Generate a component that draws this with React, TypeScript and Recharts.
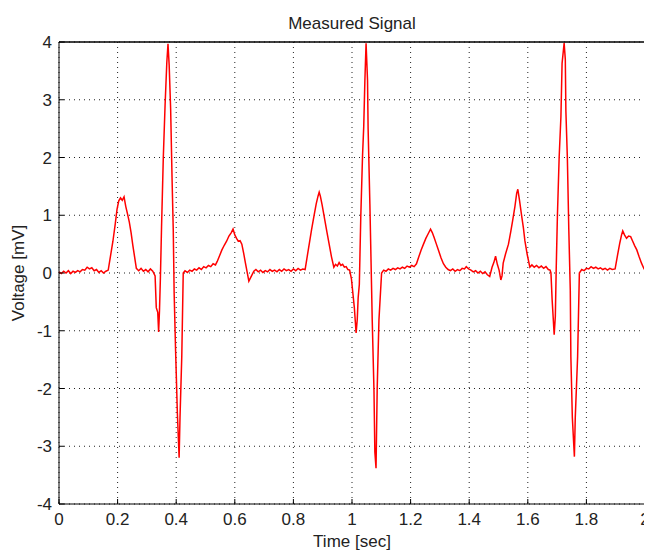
import React from 'react';
import { LineChart, Line, XAxis, YAxis, CartesianGrid, ReferenceLine } from 'recharts';

// samples: [time (s), voltage (mV)]
const beatA: [number, number][] = [
  [0.0, 0.02], [0.008, -0.01], [0.016, 0.03], [0.024, 0.0], [0.032, 0.04], [0.04, -0.01],
  [0.048, 0.03], [0.056, 0.01], [0.064, 0.04], [0.072, 0.02], [0.08, 0.06], [0.088, 0.05],
  [0.096, 0.1], [0.104, 0.07], [0.112, 0.09], [0.12, 0.04], [0.128, 0.06], [0.136, 0.01],
  [0.144, 0.04], [0.152, 0.0], [0.16, 0.03], [0.168, 0.05], [0.176, 0.3], [0.184, 0.55],
  [0.192, 0.85], [0.198, 1.1], [0.204, 1.25], [0.21, 1.3], [0.216, 1.26], [0.222, 1.32],
  [0.228, 1.15], [0.234, 1.02], [0.24, 0.88], [0.246, 0.7], [0.252, 0.48], [0.258, 0.28],
  [0.264, 0.08], [0.272, 0.04], [0.28, 0.08], [0.288, 0.03], [0.296, 0.06], [0.304, 0.02],
  [0.312, 0.07], [0.32, 0.03], [0.328, -0.05], [0.332, -0.6], [0.337, -0.68], [0.34, -1.02],
  [0.343, -0.65], [0.346, -0.1], [0.35, 0.8], [0.356, 2.0], [0.362, 2.9], [0.368, 3.65],
  [0.372, 3.97], [0.376, 3.6], [0.381, 2.85], [0.386, 1.6], [0.39, 0.73], [0.393, -0.35],
  [0.398, -1.36], [0.404, -2.43], [0.41, -3.2], [0.413, -2.5], [0.419, -1.45], [0.424, 0.0],
  [0.43, 0.04], [0.438, 0.01], [0.446, 0.05], [0.454, 0.03], [0.462, 0.07], [0.47, 0.05],
  [0.478, 0.09], [0.486, 0.06], [0.494, 0.11], [0.502, 0.09], [0.51, 0.13], [0.518, 0.11],
  [0.526, 0.16], [0.534, 0.14], [0.54, 0.2], [0.548, 0.3], [0.556, 0.4], [0.564, 0.48],
  [0.572, 0.55], [0.58, 0.64], [0.588, 0.7], [0.594, 0.76], [0.6, 0.66], [0.606, 0.6],
  [0.612, 0.55], [0.618, 0.56], [0.624, 0.5], [0.63, 0.35], [0.636, 0.18], [0.642, 0.02],
  [0.648, -0.14], [0.654, -0.08], [0.66, -0.02],
];

const beatB: [number, number][] = [
  [0.665, 0.03], [0.672, 0.06], [0.68, 0.02], [0.688, 0.05], [0.696, 0.01], [0.704, 0.04],
  [0.712, 0.02], [0.72, 0.06], [0.728, 0.03], [0.736, 0.05], [0.744, 0.02], [0.752, 0.06],
  [0.76, 0.03], [0.768, 0.07], [0.776, 0.04], [0.784, 0.06], [0.792, 0.03], [0.8, 0.07],
  [0.808, 0.04], [0.816, 0.08], [0.824, 0.05], [0.832, 0.07], [0.84, 0.06], [0.846, 0.25],
  [0.854, 0.5], [0.862, 0.75], [0.87, 0.98], [0.878, 1.2], [0.884, 1.33], [0.888, 1.4],
  [0.892, 1.33], [0.898, 1.18], [0.906, 0.95], [0.914, 0.72], [0.922, 0.5], [0.93, 0.28],
  [0.938, 0.1], [0.944, 0.15], [0.95, 0.12], [0.956, 0.18], [0.962, 0.13], [0.968, 0.15],
  [0.974, 0.1], [0.98, 0.11], [0.986, 0.06], [0.992, 0.05], [0.998, -0.1], [1.008, -0.6],
  [1.014, -1.04], [1.018, -0.8], [1.021, -0.43], [1.025, -0.2], [1.03, 0.98], [1.036, 2.04],
  [1.04, 2.53], [1.044, 3.34], [1.048, 3.98], [1.053, 3.34], [1.055, 2.5], [1.061, 1.2],
  [1.067, -0.3], [1.069, -0.81], [1.075, -2.03], [1.078, -3.1], [1.082, -3.38], [1.086, -2.0],
  [1.092, -0.81], [1.101, 0.0], [1.108, 0.05], [1.116, 0.03], [1.124, 0.07], [1.132, 0.05],
  [1.14, 0.08], [1.148, 0.06], [1.156, 0.09], [1.164, 0.07], [1.172, 0.1], [1.18, 0.08],
  [1.188, 0.12], [1.196, 0.1], [1.204, 0.13], [1.212, 0.11], [1.22, 0.16], [1.228, 0.28],
  [1.236, 0.4], [1.244, 0.5], [1.252, 0.6], [1.26, 0.68], [1.268, 0.76], [1.274, 0.7],
  [1.28, 0.62], [1.288, 0.5], [1.296, 0.38], [1.304, 0.26], [1.312, 0.16], [1.32, 0.1],
  [1.328, 0.06],
];

const beatC: [number, number][] = [
  [1.336, 0.04], [1.344, 0.07], [1.352, 0.03], [1.36, 0.06], [1.368, 0.04], [1.376, 0.08],
  [1.384, 0.07], [1.39, 0.11], [1.398, 0.07], [1.406, 0.05], [1.414, 0.02], [1.422, 0.04],
  [1.43, 0.0], [1.438, 0.03], [1.446, -0.01], [1.454, 0.02], [1.462, -0.03], [1.47, -0.06],
  [1.478, 0.1], [1.484, 0.18], [1.49, 0.29], [1.496, 0.15], [1.502, 0.05], [1.508, -0.12],
  [1.512, -0.05], [1.516, 0.17], [1.524, 0.33], [1.534, 0.5], [1.542, 0.72], [1.548, 0.9],
  [1.556, 1.15], [1.562, 1.38], [1.566, 1.45], [1.572, 1.25], [1.579, 0.99], [1.585, 0.78],
  [1.59, 0.56], [1.598, 0.32], [1.607, 0.1], [1.614, 0.14], [1.622, 0.1], [1.63, 0.13],
  [1.638, 0.09], [1.646, 0.12], [1.654, 0.08], [1.662, 0.11], [1.67, 0.06], [1.676, 0.05],
  [1.679, 0.0], [1.683, -0.46], [1.686, -0.72], [1.69, -1.07], [1.694, -0.75], [1.697, 0.08],
  [1.701, 0.98], [1.707, 2.0], [1.713, 2.7], [1.717, 3.63], [1.724, 3.98], [1.728, 3.7],
  [1.73, 2.8], [1.735, 2.0], [1.74, 0.74], [1.745, -0.3], [1.747, -1.45], [1.752, -2.5],
  [1.759, -3.18], [1.762, -2.5], [1.77, -1.45], [1.776, 0.0], [1.784, 0.06], [1.792, 0.04],
  [1.8, 0.08], [1.808, 0.07], [1.816, 0.11], [1.824, 0.08], [1.832, 0.1], [1.84, 0.07],
  [1.848, 0.09], [1.856, 0.06], [1.864, 0.08], [1.872, 0.05], [1.88, 0.08], [1.888, 0.06],
  [1.898, 0.07], [1.906, 0.3], [1.914, 0.52], [1.92, 0.66], [1.924, 0.73], [1.93, 0.66],
  [1.937, 0.6], [1.944, 0.64], [1.951, 0.63], [1.958, 0.55], [1.965, 0.47], [1.972, 0.4],
  [1.98, 0.28], [1.988, 0.17], [1.997, 0.07], [2.0, 0.06],
];

const timeTicks = [0, 0.2, 0.4, 0.6, 0.8, 1, 1.2, 1.4, 1.6, 1.8, 2];
const voltTicks = [-4, -3, -2, -1, 0, 1, 2, 3, 4];

const signal = [...beatA, ...beatB, ...beatC].map(([t, v]) => ({ t, v }));

const FONT = '"Liberation Sans", Arial, sans-serif';
const tickStyle = { fill: '#222', fontSize: 17, fontFamily: FONT };

export default function App() {
  return (
    <div style={{ width: 644, height: 547, fontFamily: FONT }}>
      <LineChart width={644} height={547} data={signal} margin={{ top: 33, right: 6, bottom: 0, left: 0 }}>
        <CartesianGrid stroke="#222" strokeDasharray="1 4" />
        {/* box: top and right edges */}
        <ReferenceLine y={4} stroke="#000" strokeWidth={1} ifOverflow="visible" />
        <ReferenceLine x={2} stroke="#000" strokeWidth={1} ifOverflow="visible" />
        <XAxis
          dataKey="t"
          type="number"
          domain={[0, 2]}
          ticks={timeTicks}
          interval={0}
          height={51}
          tickSize={-5}
          tickMargin={14}
          stroke="#000"
          tick={tickStyle}
          label={{ value: 'Time [sec]', position: 'insideBottom', offset: 8, fill: '#222', fontSize: 17, fontFamily: FONT }}
        />
        <XAxis
          xAxisId="top"
          orientation="top"
          dataKey="t"
          type="number"
          domain={[0, 2]}
          allowDataOverflow
          ticks={timeTicks}
          interval={0}
          height={1}
          tickSize={-5}
          tick={false}
          stroke="#000"
          label={{ value: 'Measured Signal', position: 'top', offset: 12, fill: '#222', fontSize: 17, fontFamily: FONT }}
        />
        <YAxis
          type="number"
          domain={[-4, 4]}
          ticks={voltTicks}
          interval={0}
          width={51}
          tickSize={-5}
          tickMargin={12}
          stroke="#000"
          tick={tickStyle}
          label={{ value: 'Voltage [mV]', angle: -90, position: 'insideLeft', offset: 10, fill: '#222', fontSize: 17, fontFamily: FONT, style: { textAnchor: 'middle' } }}
        />
        <YAxis
          yAxisId="right"
          orientation="right"
          type="number"
          domain={[-4, 4]}
          allowDataOverflow
          ticks={voltTicks}
          interval={0}
          width={1}
          tickSize={-5}
          tick={false}
          stroke="#000"
        />
        <Line
          type="linear"
          dataKey="v"
          stroke="#f00"
          strokeWidth={1.5}
          dot={false}
          activeDot={false}
          isAnimationActive={false}
        />
      </LineChart>
    </div>
  );
}
